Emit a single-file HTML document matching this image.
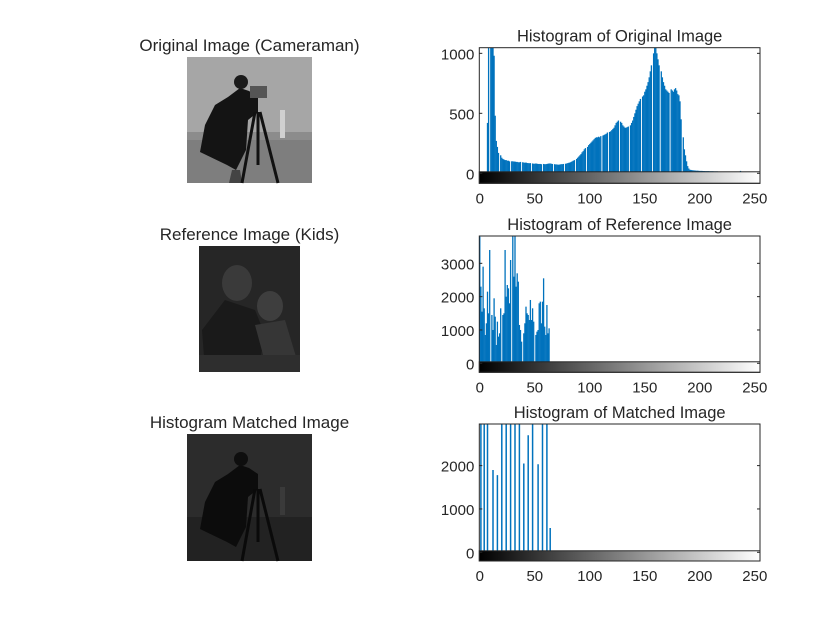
<!DOCTYPE html>
<html><head><meta charset="utf-8"><style>
html,body{margin:0;padding:0;background:#fff;}
svg text{font-family:"Liberation Sans",Arial,sans-serif;fill:#262626;}
</style></head><body>
<svg id="fig" width="840" height="630" viewBox="0 0 840 630" xmlns="http://www.w3.org/2000/svg">
<defs>
<linearGradient id="cb" x1="0" x2="1" y1="0" y2="0"><stop offset="0" stop-color="#000"/><stop offset="1" stop-color="#fff"/></linearGradient>
</defs>
<rect width="840" height="630" fill="#fff"/>
<text x="249.5" y="51" font-size="17" text-anchor="middle">Original Image (Cameraman)</text>
<g>
<rect x="187" y="57" width="125" height="126" fill="#a6a6a6"/>
<rect x="187" y="139" width="125" height="44" fill="#7e7e7e"/>
<rect x="187" y="132" width="125" height="8" fill="#8c8c8c"/>
<rect x="280" y="110" width="5" height="28" fill="#d0d0d0"/>
<path d="M228,97 L240,88 L249,91 L258,97 L258,112 L248,120 L246,150 L236,170 L227,165 L200,152 L205,125 L215,105 Z" fill="#141414"/>
<circle cx="241" cy="82" r="7" fill="#1a1a1a"/>
<rect x="250" y="86" width="17" height="12" fill="#555"/>
<path d="M232,170 L240,170 L242,183 L229,183 Z" fill="#444"/>
<path d="M255,112 L242,183 M258,112 L258,165 M260,112 L278,183" stroke="#111" stroke-width="3"/>
</g>
<text x="249.5" y="240" font-size="17" text-anchor="middle">Reference Image (Kids)</text>
<g>
<rect x="199" y="246" width="101" height="126" fill="#262626"/>
<ellipse cx="237" cy="283" rx="15" ry="18" fill="#3a3a3a"/>
<ellipse cx="270" cy="306" rx="13" ry="15" fill="#3e3e3e"/>
<path d="M202,330 L225,300 L255,310 L265,335 L260,360 L205,370 Z" fill="#1a1a1a"/>
<path d="M255,325 L285,320 L297,360 L265,362 Z" fill="#363636"/>
<rect x="199" y="355" width="101" height="17" fill="#2e2e2e"/>
</g>
<text x="249.5" y="428" font-size="17" text-anchor="middle">Histogram Matched Image</text>
<g>
<rect x="187" y="434" width="125" height="127" fill="#2c2c2c"/>
<rect x="187" y="517" width="125" height="44" fill="#222"/>
<path d="M228,474 L240,465 L249,468 L258,474 L258,489 L248,497 L246,527 L236,547 L227,542 L200,529 L205,502 L215,482 Z" fill="#0c0c0c"/>
<circle cx="241" cy="459" r="7" fill="#0e0e0e"/>
<rect x="280" y="487" width="5" height="28" fill="#3a3a3a"/>
<path d="M255,489 L242,561 M258,489 L258,542 M260,489 L278,561" stroke="#0a0a0a" stroke-width="3"/>
</g>
<g id="charts"></g>
</svg>
<script>
const origCounts = [0,0,0,0,0,0,0,420,1400,0,1400,1350,1250,980,480,270,220,170,0,150,
130,120,115,110,110,105,105,100,0,100,100,98,98,95,95,92,92,95,0,92,
90,88,90,86,85,84,85,0,82,80,80,82,80,78,78,78,76,0,78,76,
76,78,80,82,82,80,78,0,76,74,74,72,72,74,76,76,78,0,80,82,
85,88,90,95,100,105,110,0,120,130,140,150,160,175,185,200,210,0,220,235,
245,255,265,275,285,295,300,300,305,300,310,0,315,320,325,330,340,0,345,350,
360,370,380,400,420,430,440,0,430,420,400,390,380,380,385,390,0,400,420,440,
470,500,530,560,580,600,620,0,640,650,680,700,730,760,800,850,900,0,1000,1100,
1100,1000,950,900,0,850,800,760,730,700,690,680,670,0,700,690,680,700,710,690,
660,650,600,450,0,300,200,150,100,60,40,30,28,26,25,24,23,22,22,21,
20,20,20,19,19,18,18,18,18,17,17,17,17,16,16,16,16,15,15,15,
15,15,14,14,14,14,14,14,14,14,13,13,13,13,13,14,15,20,15,12,
12,12,12,11,11,10,10,8,5,3,0,0,0,0,0,0];
const refCounts = [3800,2300,1550,2900,1650,850,1200,2150,1500,3400,0,1450,1000,1950,1400,550,1250,800,900,1650,
0,1450,1500,3400,2000,2350,2250,1800,3100,0,3820,2600,3820,2300,2700,2450,1150,1000,650,0,
900,1200,1700,1500,1450,1300,1900,1300,1650,1250,0,850,950,1000,1800,1850,1200,1850,2550,1100,
850,1750,900,1050];
const matchedBins = [1,4,7,12,16,20,24,28,32,36,40,44,48,53,57,61,64];
const matchedCounts = [3400,3300,3500,1900,1780,3100,3300,3200,3000,3400,2050,2700,3600,2030,3300,3400,560];
const xTicks = [0,50,100,150,200,250];
const origYTicks = [0,500,1000];
const refYTicks = [0,1000,2000,3000];
const matchedYTicks = [0,1000,2000];

const NS='http://www.w3.org/2000/svg';
const root=document.getElementById('charts');
function mk(tag,attrs,parent){const e=document.createElementNS(NS,tag);for(const k in attrs)e.setAttribute(k,attrs[k]);(parent||root).appendChild(e);return e;}

const L=479.3,R=760;
function xs(v){return L+0.5+v*1.1;}

function panel(cfg){
  const g=mk('g',{});
  
  
  const ys=v=>cfg.y0-(v/cfg.ymax)*(cfg.y0-cfg.top);
  const clip='clip-'+cfg.name;
  const cp=mk('clipPath',{id:clip},g);mk('rect',{x:L,y:cfg.top,width:R-L,height:cfg.y0-cfg.top},cp);
  const bars=mk('g',{'clip-path':'url(#'+clip+')'},g);
  if(cfg.lines){
    cfg.bins.forEach((b,i)=>{
      const ln=mk('line',{x1:xs(b),x2:xs(b),y1:cfg.y0,y2:ys(cfg.vals[i]),stroke:'#0072BD','stroke-width':1.5},bars);
      
      
    });
  } else {
    cfg.vals.forEach((v,i)=>{
      if(v<=0)return;
      const r=mk('rect',{x:xs(i)-0.65,y:ys(v),width:1.3,height:cfg.y0-ys(v),fill:'#0072BD'},bars);
      
      
    });
  }
  const cb=mk('rect',{x:L,y:cfg.y0-1.5,width:R-L,height:cfg.bottom-cfg.y0+1.5,fill:'url(#cb)',stroke:'#262626','stroke-width':1},g);
  
  
  const box=mk('rect',{x:L,y:cfg.top,width:R-L,height:cfg.bottom-cfg.top,fill:'none',stroke:'#262626','stroke-width':1},g);
  
  
  cfg.yt.forEach(t=>{
    const y=ys(t);
    mk('line',{x1:L,x2:L+3,y1:y,y2:y,stroke:'#262626'},g);
    mk('line',{x1:R,x2:R-3,y1:y,y2:y,stroke:'#262626'},g);
    const tx=mk('text',{x:L-5,y:y+6,'font-size':15,'text-anchor':'end'},g);tx.textContent=t;
    
    
  });
  xTicks.forEach(t=>{
    const x=xs(t);
    const tx=mk('text',{x:x,y:cfg.bottom+20,'font-size':15,'text-anchor':'middle'},g);tx.textContent=t;
    
    
  });
  const ti=mk('text',{x:(L+R)/2,y:cfg.top-6,'font-size':16.5,'text-anchor':'middle'},g);ti.textContent=cfg.title;
  
  
}
panel({name:'original-histogram',title:'Histogram of Original Image',top:47.7,y0:173.3,bottom:183.3,ymax:1047,vals:origCounts,yt:origYTicks});
panel({name:'reference-histogram',title:'Histogram of Reference Image',top:236,y0:363.3,bottom:372.3,ymax:3820,vals:refCounts,yt:refYTicks});
panel({name:'matched-histogram',title:'Histogram of Matched Image',top:424,y0:552.3,bottom:561,ymax:2960,lines:true,bins:matchedBins,vals:matchedCounts,yt:matchedYTicks});
</script>
</body></html>
